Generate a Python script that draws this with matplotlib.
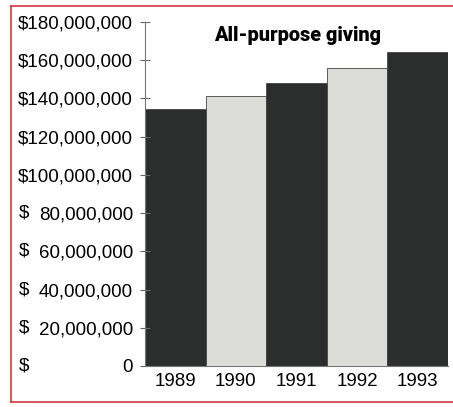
import matplotlib.pyplot as plt
from matplotlib.lines import Line2D
from matplotlib.transforms import blended_transform_factory

years = ["1989", "1990", "1991", "1992", "1993"]
giving = [134500000, 141400000, 147900000, 156100000, 164100000]
bar_colors = ["#2c2e2e", "#dcdcd8", "#2c2e2e", "#dcdcd8", "#2c2e2e"]
y_ticks = [0, 20000000, 40000000, 60000000, 80000000, 100000000,
           120000000, 140000000, 160000000, 180000000]

plt.rcParams['font.family'] = ['Liberation Sans', 'DejaVu Sans']

fig = plt.figure(figsize=(4.53, 4.07), dpi=100)
ax = fig.add_axes([145 / 453, 1 - 366 / 407, 303 / 453, 344 / 407])

x = range(len(years))
ax.bar(x, giving, width=1.0, color=bar_colors, edgecolor="#444444", linewidth=0.6)

ax.set_xlim(-0.5, 4.5)
ax.set_ylim(0, 180000000)
ax.set_xticks(list(x))
ax.set_xticklabels(years, fontsize=13.5)
ax.tick_params(axis="x", length=0, pad=5)

# accounting-style labels: "$" sits in its own column on the left
labels = []
for v in y_ticks:
    if v >= 100000000:
        labels.append(f"${v:,}")
    elif v == 0:
        labels.append("0")
    else:
        labels.append(f"{v:,}")
ax.set_yticks(y_ticks)
ax.set_yticklabels(labels, fontsize=13.5)
ax.tick_params(axis="y", direction="inout", length=7, width=0.8, color="#666666", pad=5)

trans = blended_transform_factory(fig.transFigure, ax.transData)
for v in y_ticks:
    if v < 100000000:
        fig.text(19 / 453, v, "$", transform=trans, fontsize=13.5, va="center", ha="left")

for side in ["top", "right"]:
    ax.spines[side].set_visible(False)
ax.spines["left"].set_color("#777777")
ax.spines["left"].set_linewidth(0.8)
ax.spines["bottom"].set_color("#777777")
ax.spines["bottom"].set_linewidth(0.8)

ax.text(0.502, 0.962, "All-purpose giving", transform=ax.transAxes, ha="center", va="center",
        fontsize=14.3, fontweight="heavy", family=["Roboto", "DejaVu Sans"])

# red frame round the figure
red = "#d03a3f"
fig.add_artist(Line2D([10.5 / 453, 10.5 / 453], [1 - 5.5 / 407, 1 - 402 / 407], color=red, lw=1.2))
fig.add_artist(Line2D([10.5 / 453, 0.999], [1 - 5.5 / 407, 1 - 5.5 / 407], color=red, lw=1.2))
fig.add_artist(Line2D([10.5 / 453, 0.999], [1 - 402 / 407, 1 - 402 / 407], color=red, lw=1.2))

fig.savefig("out.png", dpi=100)
